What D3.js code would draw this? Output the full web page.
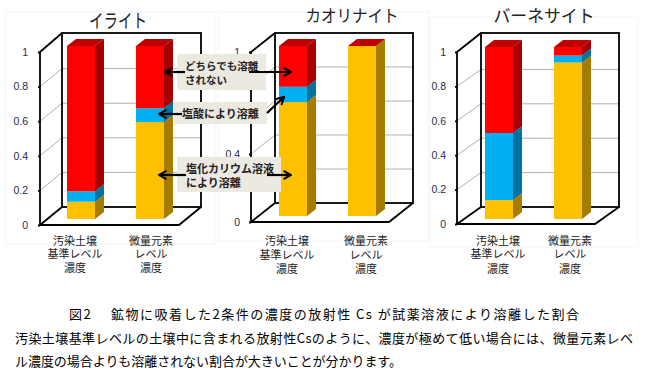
<!DOCTYPE html>
<html>
<head>
<meta charset="utf-8">
<script src="https://cdn.jsdelivr.net/npm/d3@7"></script>
<style>
  html, body { margin: 0; padding: 0; background: #fff; }
  text { font-family: "Noto Sans CJK JP", sans-serif; fill: #222; }
</style>
</head>
<body>
<div id="vis"></div>
<script>
const svgWidth = 648;
const svgHeight = 389;

// values
const minerals = ['イライト', 'カオリナイト', 'バーネサイト'];
const categories = ['base', 'trace'];
const categoryLabels = [['汚染土壌', '基準レベル', '濃度'], ['微量元素', 'レベル', '濃度']];
const seriesNames = ['kcl', 'hcl', 'rest'];
const kclValues = [[0.10, 0.56], [0.67, 1.0], [0.11, 0.91]];
const hclValues = [[0.06, 0.08], [0.09, 0], [0.39, 0.04]];
const restValues = [[0.84, 0.36], [0.24, 0], [0.50, 0.05]];
const yTicks = [0, 0.2, 0.4, 0.6, 0.8, 1];
// the callouts hide the other tick labels of the middle chart
const yTickLabels = [yTicks, [0, 0.4, 1], yTicks];

const frontColors = { kcl: '#ffc000', hcl: '#00b0f0', rest: '#ff0000' };
const sideColors = { kcl: '#a67c00', hcl: '#0072a0', rest: '#a60000' };
const topColor = '#c00000';

// where each little 3d chart sits
const panels = [
  { box: [6, 12, 209, 232], title: [118, 28, 19, 58], axisX: 40, frontTop: 52, frontBottom: 225, backX: 62, backRight: 201, backTop: 33, backBottom: 207, barTop: 46, barBottom: 219, barX: [67, 136], labelX: [75, 151], labelY: [245, 258, 272], tickX: 28 },
  { box: [218, 12, 210, 229], title: [352, 22, 17, 93], axisX: 251, frontTop: 52, frontBottom: 222, backX: 275, backRight: 413, backTop: 33, backBottom: 203, barTop: 46, barBottom: 216, barX: [279, 348], labelX: [287, 366], labelY: [245, 259, 273], tickX: 240 },
  { box: [430, 17, 208, 230], title: [544, 22, 17.5, 101], axisX: 457, frontTop: 52, frontBottom: 224, backX: 481, backRight: 619, backTop: 33, backBottom: 207, barTop: 47, barBottom: 219, barX: [485, 554], labelX: [498, 570], labelY: [245, 258, 273], tickX: 446 },
];
const barWidth = 28;
const depthX = 9;
const depthY = -7;

const notes = [
  { box: [177, 54, 89, 36], lines: ['どちらでも溶離', 'されない'], textX: 185, textY: [70, 84], size: 10.5 },
  { box: [174, 102, 93, 22], lines: ['塩酸により溶離'], textX: 182, textY: [118], size: 11 },
  { box: [177, 157, 104, 35], lines: ['塩化カリウム溶液', 'により溶離'], textX: 186, textY: [173, 187], size: 11 },
];
const arrows = [
  [185, 72, 165, 72], [249, 72, 291, 72],
  [182, 114, 159, 114], [267, 113, 284, 97],
  [186, 175, 159, 175], [267, 175, 291, 175],
];

const captionLines = [
  { text: '図2　 鉱物に吸着した2条件の濃度の放射性 Cs が試薬溶液により溶離した割合', x: 69, y: 319, len: 510 },
  { text: '汚染土壌基準レベルの土壌中に含まれる放射性Csのように、濃度が極めて低い場合には、微量元素レベ', x: 15, y: 343, len: 618 },
  { text: 'ル濃度の場合よりも溶離されない割合が大きいことが分かります。', x: 15, y: 366, len: 387 },
];

const svg = d3.select('#vis').append('svg').attr('width', svgWidth).attr('height', svgHeight);

svg.append('defs').append('marker')
  .attr('id', 'head')
  .attr('viewBox', '0 0 10 10')
  .attr('refX', 9).attr('refY', 5)
  .attr('markerWidth', 4.2).attr('markerHeight', 4.2)
  .attr('orient', 'auto')
  .append('path')
  .attr('d', 'M1,0.5 L9,5 L1,9.5')
  .attr('fill', 'none')
  .attr('stroke', '#000')
  .attr('stroke-width', 2.2);

// one text element with a tspan per line
const multiline = (parent, lines, x, ys) => {
  const t = parent.append('text');
  lines.forEach((line, k) => {
    t.append('tspan').attr('x', x).attr('y', ys[k]).text(line);
  });
  return t;
};

panels.forEach((p, i) => {
  const g = svg.append('g');
  const dx = p.backX - p.axisX;
  const dy = p.backBottom - p.frontBottom;

  g.append('rect')
    .attr('x', p.box[0]).attr('y', p.box[1])
    .attr('width', p.box[2]).attr('height', p.box[3])
    .attr('fill', '#fff').attr('stroke', '#f4f4f4');

  g.append('text')
    .attr('x', p.title[0]).attr('y', p.title[1])
    .attr('text-anchor', 'middle')
    .attr('font-size', p.title[2])
    .attr('textLength', p.title[3])
    .attr('lengthAdjust', 'spacingAndGlyphs')
    .text(minerals[i]);

  const yFront = d3.scaleLinear().domain([0, 1]).range([p.frontBottom, p.frontTop]);
  const yBar = d3.scaleLinear().domain([0, 1]).range([p.barBottom, p.barTop]);

  // grid on the back and side walls
  const grid = g.append('g').attr('stroke', '#b0b0b0').attr('stroke-width', 1);
  yTicks.slice(1, -1).forEach((t) => {
    grid.append('line')
      .attr('x1', p.axisX).attr('y1', yFront(t))
      .attr('x2', p.backX).attr('y2', yFront(t) + dy);
    grid.append('line')
      .attr('x1', p.backX).attr('y1', yFront(t) + dy)
      .attr('x2', p.backRight).attr('y2', yFront(t) + dy);
  });

  // frame
  const floorRight = p.backRight - dx;
  const frame = g.append('g').attr('fill', 'none').attr('stroke', '#000').attr('stroke-width', 1.8);
  frame.append('rect')
    .attr('x', p.backX).attr('y', p.backTop)
    .attr('width', p.backRight - p.backX).attr('height', p.backBottom - p.backTop);
  frame.append('path')
    .attr('d', `M${p.backX},${p.backTop} L${p.axisX},${p.frontTop} L${p.axisX},${p.frontBottom} L${floorRight},${p.frontBottom} L${p.backRight},${p.backBottom} M${p.axisX},${p.frontBottom} L${p.backX},${p.backBottom}`);

  const yAxis = d3.axisLeft(yFront).tickValues(yTickLabels[i]).tickSize(2).tickPadding(p.axisX - p.tickX - 2).tickFormat(d3.format('~g'));
  const axisG = g.append('g').attr('transform', `translate(${p.axisX},0)`).call(yAxis);
  axisG.select('.domain').remove();
  axisG.selectAll('line').attr('stroke', '#000').attr('stroke-width', 1.8);
  axisG.selectAll('text')
    .style('font-family', '"Liberation Sans", sans-serif')
    .style('font-size', '10.5px')
    .style('fill', '#1f2d4a');

  // stacked bars, front + side, top only on the last series
  const rows = categories.map((c, j) => ({
    category: c,
    kcl: kclValues[i][j],
    hcl: hclValues[i][j],
    rest: restValues[i][j],
  }));
  const stacked = d3.stack().keys(seriesNames)(rows);

  stacked.forEach((layer) => {
    const layerG = g.append('g');
    layer.forEach((d, j) => {
      if (d[1] === d[0]) return;
      const x0 = p.barX[j];
      const x1 = x0 + barWidth;
      layerG.append('path')
        .attr('fill', sideColors[layer.key])
        .attr('d', `M${x1},${yBar(d[0])} L${x1 + depthX},${yBar(d[0]) + depthY} L${x1 + depthX},${yBar(d[1]) + depthY} L${x1},${yBar(d[1])} Z`);
      layerG.append('rect')
        .attr('x', x0).attr('y', yBar(d[1]))
        .attr('width', barWidth).attr('height', yBar(d[0]) - yBar(d[1]))
        .attr('fill', frontColors[layer.key]);
    });
  });
  rows.forEach((d, j) => {
    const x0 = p.barX[j];
    const top = yBar(1);
    g.append('path')
      .attr('fill', topColor)
      .attr('d', `M${x0},${top} L${x0 + depthX},${top + depthY} L${x0 + barWidth + depthX},${top + depthY} L${x0 + barWidth},${top} Z`);
  });

  // category labels under the chart
  categoryLabels.forEach((lines, j) => {
    multiline(g, lines, p.labelX[j], p.labelY)
      .attr('text-anchor', 'middle')
      .attr('font-size', 11);
  });
});

// callouts go over the charts
const noteG = svg.append('g');
notes.forEach((n) => {
  noteG.append('rect')
    .attr('x', n.box[0]).attr('y', n.box[1])
    .attr('width', n.box[2]).attr('height', n.box[3])
    .attr('fill', '#ebe9e0');
  multiline(noteG, n.lines, n.textX, n.textY)
    .attr('font-size', n.size)
    .attr('font-weight', 700);
});
noteG.selectAll('line.arrow')
  .data(arrows)
  .join('line')
  .attr('class', 'arrow')
  .attr('x1', (d) => d[0]).attr('y1', (d) => d[1])
  .attr('x2', (d) => d[2]).attr('y2', (d) => d[3])
  .attr('stroke', '#000')
  .attr('stroke-width', 2.2)
  .attr('marker-end', 'url(#head)');

svg.selectAll('text.caption')
  .data(captionLines)
  .join('text')
  .attr('class', 'caption')
  .attr('x', (d) => d.x).attr('y', (d) => d.y)
  .attr('font-size', 13)
  .attr('textLength', (d) => d.len)
  .attr('lengthAdjust', 'spacing')
  .style('fill', '#000')
  .text((d) => d.text);
</script>
</body>
</html>
